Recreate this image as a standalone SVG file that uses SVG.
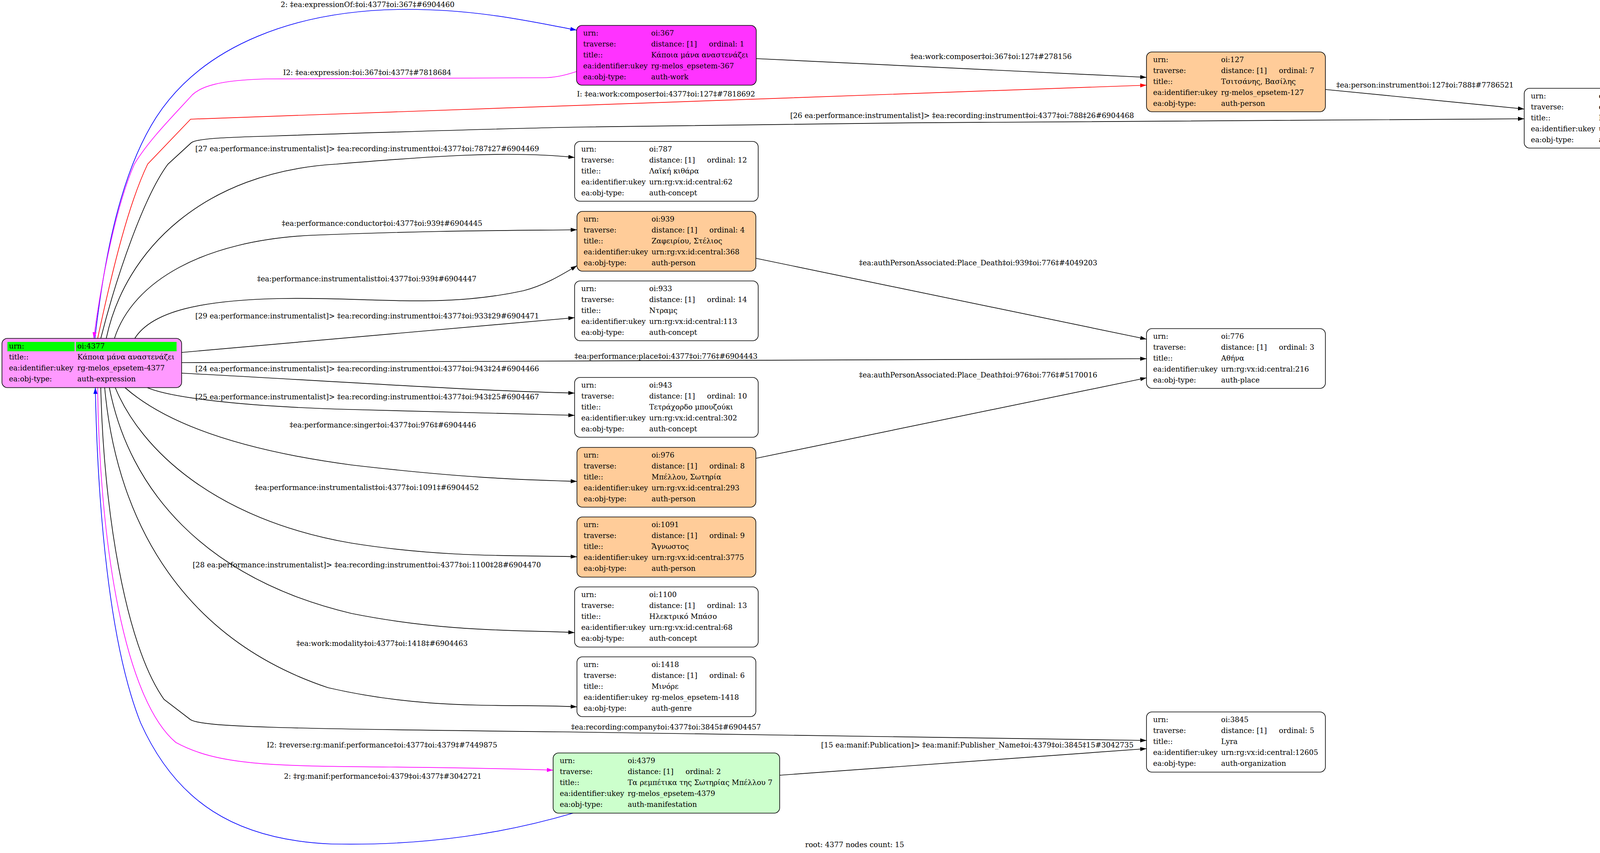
<svg xmlns="http://www.w3.org/2000/svg" width="4377" height="2183" viewBox="0 0 4377 2183">
<style>
text{font-family:'DejaVu Serif',serif;font-size:18.5px;fill:#000}
.lbl{text-anchor:middle}
.box{stroke:#000;stroke-width:1.6}
.w{fill:#fff}
.p{fill:#ffcc99}
.e{fill:none;stroke:#000;stroke-width:1.7}
.eb{stroke:#0000ff}
.em{stroke:#ff00ff}
.er{stroke:#ff0000}
</style>
<defs>
<marker id="ak" markerUnits="userSpaceOnUse" markerWidth="16" markerHeight="12" viewBox="0 0 16 12" refX="16" refY="6" orient="auto"><path d="M0,0.8 L16,6 L0,11.2 z" fill="#000"/></marker>
<marker id="ab" markerUnits="userSpaceOnUse" markerWidth="16" markerHeight="12" viewBox="0 0 16 12" refX="16" refY="6" orient="auto"><path d="M0,0.8 L16,6 L0,11.2 z" fill="#0000ff"/></marker>
<marker id="am" markerUnits="userSpaceOnUse" markerWidth="16" markerHeight="12" viewBox="0 0 16 12" refX="16" refY="6" orient="auto"><path d="M0,0.8 L16,6 L0,11.2 z" fill="#ff00ff"/></marker>
<marker id="ar" markerUnits="userSpaceOnUse" markerWidth="16" markerHeight="12" viewBox="0 0 16 12" refX="16" refY="6" orient="auto"><path d="M0,0.8 L16,6 L0,11.2 z" fill="#ff0000"/></marker>
</defs>
<rect width="4377" height="2183" fill="#fff"/>
<g id="edges">
<g id="e1"><path class="e eb" marker-end="url(#ab)" d="M243,866 C268,650 310,440 400,300 C520,115 760,24 1043,24 C1230,24 1370,58 1476,77"/><text class="lbl" x="941" y="18">2: ‡ea:expressionOf:‡oi:4377‡oi:367‡#6904460</text></g>
<g id="e2"><path class="e em" marker-end="url(#am)" d="M1476,183 C1440,195 1415,199 1388,199 L680,202 C560,205 515,222 493,242 C440,300 380,360 344,420 C300,520 262,700 240,866"/><text class="lbl" x="940" y="192">I2: ‡ea:expression:‡oi:367‡oi:4377‡#7818684</text></g>
<g id="e3"><path class="e er" marker-end="url(#ar)" d="M250,866 C290,680 330,520 378,420 L488,305 L2935,218"/><text class="lbl" x="1705" y="247">I: ‡ea:work:composer‡oi:4377‡oi:127‡#7818692</text></g>
<g id="e4"><path class="e" marker-end="url(#ak)" d="M1936,150 L2935,198"/><text class="lbl" x="2537" y="151">‡ea:work:composer‡oi:367‡oi:127‡#278156</text></g>
<g id="e5"><path class="e" marker-end="url(#ak)" d="M3393,229 L3902,279"/><text class="lbl" x="3648" y="224">‡ea:person:instrument‡oi:127‡oi:788‡#7786521</text></g>
<g id="e6"><path class="e" marker-end="url(#ak)" d="M258,866 C300,700 370,500 430,420 L490,365 C505,355 560,352 700,348 C1000,338 1300,328 1500,325 C2300,313 3200,305 3902,304"/><text class="lbl" x="2463" y="302">[26 ea:performance:instrumentalist]&gt; ‡ea:recording:instrument‡oi:4377‡oi:788‡26#6904468</text></g>
<g id="e7"><path class="e" marker-end="url(#ak)" d="M272,866 C320,640 520,440 861,420 C1100,400 1300,385 1471,403"/><text class="lbl" x="940" y="387">[27 ea:performance:instrumentalist]&gt; ‡ea:recording:instrument‡oi:4377‡oi:787‡27#6904469</text></g>
<g id="e8"><path class="e" marker-end="url(#ak)" d="M293,866 C340,720 520,615 800,602 C1100,590 1300,590 1477,588"/><text class="lbl" x="978" y="578">‡ea:performance:conductor‡oi:4377‡oi:939‡#6904445</text></g>
<g id="e9"><path class="e" marker-end="url(#ak)" d="M345,866 C390,795 520,768 720,764 C950,760 1130,790 1340,744 C1395,730 1440,702 1477,680"/><text class="lbl" x="939" y="720">‡ea:performance:instrumentalist‡oi:4377‡oi:939‡#6904447</text></g>
<g id="e10"><path class="e" marker-end="url(#ak)" d="M465,902 L1471,813"/><text class="lbl" x="940" y="815">[29 ea:performance:instrumentalist]&gt; ‡ea:recording:instrument‡oi:4377‡oi:933‡29#6904471</text></g>
<g id="e11"><path class="e" marker-end="url(#ak)" d="M465,928 L2935,918"/><text class="lbl" x="1705" y="918">‡ea:performance:place‡oi:4377‡oi:776‡#6904443</text></g>
<g id="e12"><path class="e" marker-end="url(#ak)" d="M465,955 C800,972 1200,1000 1471,1006"/><text class="lbl" x="940" y="950">[24 ea:performance:instrumentalist]&gt; ‡ea:recording:instrument‡oi:4377‡oi:943‡24#6904466</text></g>
<g id="e13"><path class="e" marker-end="url(#ak)" d="M377,992 C430,1015 600,1040 900,1048 C1200,1056 1350,1060 1471,1063"/><text class="lbl" x="940" y="1022">[25 ea:performance:instrumentalist]&gt; ‡ea:recording:instrument‡oi:4377‡oi:943‡25#6904467</text></g>
<g id="e14"><path class="e" marker-end="url(#ak)" d="M320,992 C420,1080 600,1150 900,1190 C1200,1225 1350,1228 1477,1232"/><text class="lbl" x="980" y="1094">‡ea:performance:singer‡oi:4377‡oi:976‡#6904446</text></g>
<g id="e15"><path class="e" marker-end="url(#ak)" d="M295,992 C360,1150 550,1330 900,1390 C1150,1430 1350,1420 1477,1425"/><text class="lbl" x="939" y="1254">‡ea:performance:instrumentalist‡oi:4377‡oi:1091‡#6904452</text></g>
<g id="e16"><path class="e" marker-end="url(#ak)" d="M280,992 C330,1250 520,1480 900,1570 C1150,1620 1350,1612 1471,1619"/><text class="lbl" x="939" y="1452">[28 ea:performance:instrumentalist]&gt; ‡ea:recording:instrument‡oi:4377‡oi:1100‡28#6904470</text></g>
<g id="e17"><path class="e" marker-end="url(#ak)" d="M268,992 C300,1350 480,1640 840,1760 C1100,1820 1300,1800 1477,1809"/><text class="lbl" x="978" y="1653">‡ea:work:modality‡oi:4377‡oi:1418‡#6904463</text></g>
<g id="e18"><path class="e" marker-end="url(#ak)" d="M258,992 C265,1300 320,1650 420,1790 L488,1842 C520,1860 700,1865 1440,1873 C2100,1882 2600,1890 2935,1895"/><text class="lbl" x="1705" y="1867">‡ea:recording:company‡oi:4377‡oi:3845‡#6904457</text></g>
<g id="e19"><path class="e em" marker-end="url(#am)" d="M250,992 C255,1400 320,1790 450,1900 C560,1960 700,1960 1000,1963 C1200,1965 1320,1968 1416,1971"/><text class="lbl" x="978" y="1913">I2: ‡reverse:rg:manif:performance‡oi:4377‡oi:4379‡#7449875</text></g>
<g id="e20"><path class="e eb" marker-end="url(#ab)" d="M1467,2081 C1300,2130 1100,2165 850,2160 C600,2150 450,2050 360,1850 C280,1650 250,1300 244,992"/><text class="lbl" x="980" y="1993">2: ‡rg:manif:performance‡oi:4379‡oi:4377‡#3042721</text></g>
<g id="e21"><path class="e" marker-end="url(#ak)" d="M1996,1984 L2935,1916"/><text class="lbl" x="2502" y="1913">[15 ea:manif:Publication]&gt; ‡ea:manif:Publisher_Name‡oi:4379‡oi:3845‡15#3042735</text></g>
<g id="e22"><path class="e" marker-end="url(#ak)" d="M1935,661 L2935,868"/><text class="lbl" x="2504" y="679">‡ea:authPersonAssociated:Place_Death‡oi:939‡oi:776‡#4049203</text></g>
<g id="e23"><path class="e" marker-end="url(#ak)" d="M1935,1173 L2935,967"/><text class="lbl" x="2504" y="966">‡ea:authPersonAssociated:Place_Death‡oi:976‡oi:776‡#5170016</text></g>
</g>
<g id="nodes">
<g id="n4377">
<rect class="box" x="5" y="866" width="460" height="126" rx="14" fill="#ff99ff"/>
<rect x="19" y="875" width="172" height="24" fill="#00ff00"/>
<rect x="194" y="875" width="258" height="24" fill="#00ff00"/>
<text x="23" y="892">urn:</text><text x="198" y="892">oi:4377</text>
<text x="23" y="920">title::</text><text x="198" y="920">Κάποια μάνα αναστενάζει</text>
<text x="23" y="948">ea:identifier:ukey</text><text x="198" y="948">rg-melos_epsetem-4377</text>
<text x="23" y="976">ea:obj-type:</text><text x="198" y="976">auth-expression</text>
</g>
<g id="n367">
<rect class="box" x="1476" y="65" width="460" height="153" rx="14" fill="#ff33ff"/>
<text x="1493" y="91">urn:</text><text x="1667" y="91">oi:367</text>
<text x="1493" y="119">traverse:</text><text x="1667" y="119">distance: [1]</text><text x="1815" y="119">ordinal: 1</text>
<text x="1493" y="147">title::</text><text x="1667" y="147">Κάποια μάνα αναστενάζει</text>
<text x="1493" y="175">ea:identifier:ukey</text><text x="1667" y="175">rg-melos_epsetem-367</text>
<text x="1493" y="203">ea:obj-type:</text><text x="1667" y="203">auth-work</text>
</g>
<g id="n127">
<rect class="box p" x="2935" y="133" width="458" height="153" rx="14"/>
<text x="2952" y="159">urn:</text><text x="3126" y="159">oi:127</text>
<text x="2952" y="187">traverse:</text><text x="3126" y="187">distance: [1]</text><text x="3274" y="187">ordinal: 7</text>
<text x="2952" y="215">title::</text><text x="3126" y="215">Τσιτσάνης, Βασίλης</text>
<text x="2952" y="243">ea:identifier:ukey</text><text x="3126" y="243">rg-melos_epsetem-127</text>
<text x="2952" y="271">ea:obj-type:</text><text x="3126" y="271">auth-person</text>
</g>
<g id="n788">
<rect class="box w" x="3902" y="226" width="470" height="153" rx="14"/>
<text x="3919" y="252">urn:</text><text x="4093" y="252">oi:788</text>
<text x="3919" y="280">traverse:</text><text x="4093" y="280">distance: [1]</text><text x="4241" y="280">ordinal: 11</text>
<text x="3919" y="308">title::</text><text x="4093" y="308">Μπαγλαμάς</text>
<text x="3919" y="336">ea:identifier:ukey</text><text x="4093" y="336">urn:rg:vx:id:central:65</text>
<text x="3919" y="364">ea:obj-type:</text><text x="4093" y="364">auth-concept</text>
</g>
<g id="n787">
<rect class="box w" x="1471" y="362" width="470" height="153" rx="14"/>
<text x="1488" y="388">urn:</text><text x="1662" y="388">oi:787</text>
<text x="1488" y="416">traverse:</text><text x="1662" y="416">distance: [1]</text><text x="1810" y="416">ordinal: 12</text>
<text x="1488" y="444">title::</text><text x="1662" y="444">Λαϊκή κιθάρα</text>
<text x="1488" y="472">ea:identifier:ukey</text><text x="1662" y="472">urn:rg:vx:id:central:62</text>
<text x="1488" y="500">ea:obj-type:</text><text x="1662" y="500">auth-concept</text>
</g>
<g id="n939">
<rect class="box p" x="1477" y="541" width="458" height="153" rx="14"/>
<text x="1494" y="567">urn:</text><text x="1668" y="567">oi:939</text>
<text x="1494" y="595">traverse:</text><text x="1668" y="595">distance: [1]</text><text x="1816" y="595">ordinal: 4</text>
<text x="1494" y="623">title::</text><text x="1668" y="623">Ζαφειρίου, Στέλιος</text>
<text x="1494" y="651">ea:identifier:ukey</text><text x="1668" y="651">urn:rg:vx:id:central:368</text>
<text x="1494" y="679">ea:obj-type:</text><text x="1668" y="679">auth-person</text>
</g>
<g id="n933">
<rect class="box w" x="1471" y="719" width="470" height="153" rx="14"/>
<text x="1488" y="745">urn:</text><text x="1662" y="745">oi:933</text>
<text x="1488" y="773">traverse:</text><text x="1662" y="773">distance: [1]</text><text x="1810" y="773">ordinal: 14</text>
<text x="1488" y="801">title::</text><text x="1662" y="801">Ντραμς</text>
<text x="1488" y="829">ea:identifier:ukey</text><text x="1662" y="829">urn:rg:vx:id:central:113</text>
<text x="1488" y="857">ea:obj-type:</text><text x="1662" y="857">auth-concept</text>
</g>
<g id="n776">
<rect class="box w" x="2935" y="841" width="458" height="153" rx="14"/>
<text x="2952" y="867">urn:</text><text x="3126" y="867">oi:776</text>
<text x="2952" y="895">traverse:</text><text x="3126" y="895">distance: [1]</text><text x="3274" y="895">ordinal: 3</text>
<text x="2952" y="923">title::</text><text x="3126" y="923">Αθήνα</text>
<text x="2952" y="951">ea:identifier:ukey</text><text x="3126" y="951">urn:rg:vx:id:central:216</text>
<text x="2952" y="979">ea:obj-type:</text><text x="3126" y="979">auth-place</text>
</g>
<g id="n943">
<rect class="box w" x="1471" y="966" width="470" height="153" rx="14"/>
<text x="1488" y="992">urn:</text><text x="1662" y="992">oi:943</text>
<text x="1488" y="1020">traverse:</text><text x="1662" y="1020">distance: [1]</text><text x="1810" y="1020">ordinal: 10</text>
<text x="1488" y="1048">title::</text><text x="1662" y="1048">Τετράχορδο μπουζούκι</text>
<text x="1488" y="1076">ea:identifier:ukey</text><text x="1662" y="1076">urn:rg:vx:id:central:302</text>
<text x="1488" y="1104">ea:obj-type:</text><text x="1662" y="1104">auth-concept</text>
</g>
<g id="n976">
<rect class="box p" x="1477" y="1145" width="458" height="153" rx="14"/>
<text x="1494" y="1171">urn:</text><text x="1668" y="1171">oi:976</text>
<text x="1494" y="1199">traverse:</text><text x="1668" y="1199">distance: [1]</text><text x="1816" y="1199">ordinal: 8</text>
<text x="1494" y="1227">title::</text><text x="1668" y="1227">Μπέλλου, Σωτηρία</text>
<text x="1494" y="1255">ea:identifier:ukey</text><text x="1668" y="1255">urn:rg:vx:id:central:293</text>
<text x="1494" y="1283">ea:obj-type:</text><text x="1668" y="1283">auth-person</text>
</g>
<g id="n1091">
<rect class="box p" x="1477" y="1323" width="458" height="154" rx="14"/>
<text x="1494" y="1349">urn:</text><text x="1668" y="1349">oi:1091</text>
<text x="1494" y="1377">traverse:</text><text x="1668" y="1377">distance: [1]</text><text x="1816" y="1377">ordinal: 9</text>
<text x="1494" y="1405">title::</text><text x="1668" y="1405">Ἄγνωστος</text>
<text x="1494" y="1433">ea:identifier:ukey</text><text x="1668" y="1433">urn:rg:vx:id:central:3775</text>
<text x="1494" y="1461">ea:obj-type:</text><text x="1668" y="1461">auth-person</text>
</g>
<g id="n1100">
<rect class="box w" x="1471" y="1502" width="470" height="154" rx="14"/>
<text x="1488" y="1528">urn:</text><text x="1662" y="1528">oi:1100</text>
<text x="1488" y="1556">traverse:</text><text x="1662" y="1556">distance: [1]</text><text x="1810" y="1556">ordinal: 13</text>
<text x="1488" y="1584">title::</text><text x="1662" y="1584">Ηλεκτρικό Μπάσο</text>
<text x="1488" y="1612">ea:identifier:ukey</text><text x="1662" y="1612">urn:rg:vx:id:central:68</text>
<text x="1488" y="1640">ea:obj-type:</text><text x="1662" y="1640">auth-concept</text>
</g>
<g id="n1418">
<rect class="box w" x="1477" y="1681" width="458" height="153" rx="14"/>
<text x="1494" y="1707">urn:</text><text x="1668" y="1707">oi:1418</text>
<text x="1494" y="1735">traverse:</text><text x="1668" y="1735">distance: [1]</text><text x="1816" y="1735">ordinal: 6</text>
<text x="1494" y="1763">title::</text><text x="1668" y="1763">Μινόρε</text>
<text x="1494" y="1791">ea:identifier:ukey</text><text x="1668" y="1791">rg-melos_epsetem-1418</text>
<text x="1494" y="1819">ea:obj-type:</text><text x="1668" y="1819">auth-genre</text>
</g>
<g id="n3845">
<rect class="box w" x="2935" y="1822" width="458" height="154" rx="14"/>
<text x="2952" y="1848">urn:</text><text x="3126" y="1848">oi:3845</text>
<text x="2952" y="1876">traverse:</text><text x="3126" y="1876">distance: [1]</text><text x="3274" y="1876">ordinal: 5</text>
<text x="2952" y="1904">title::</text><text x="3126" y="1904">Lyra</text>
<text x="2952" y="1932">ea:identifier:ukey</text><text x="3126" y="1932">urn:rg:vx:id:central:12605</text>
<text x="2952" y="1960">ea:obj-type:</text><text x="3126" y="1960">auth-organization</text>
</g>
<g id="n4379">
<rect class="box" x="1416" y="1927" width="580" height="154" rx="14" fill="#ccffcc"/>
<text x="1433" y="1953">urn:</text><text x="1607" y="1953">oi:4379</text>
<text x="1433" y="1981">traverse:</text><text x="1607" y="1981">distance: [1]</text><text x="1755" y="1981">ordinal: 2</text>
<text x="1433" y="2009">title::</text><text x="1607" y="2009">Τα ρεμπέτικα της Σωτηρίας Μπέλλου 7</text>
<text x="1433" y="2037">ea:identifier:ukey</text><text x="1607" y="2037">rg-melos_epsetem-4379</text>
<text x="1433" y="2065">ea:obj-type:</text><text x="1607" y="2065">auth-manifestation</text>
</g>
</g>
<text class="lbl" x="2188" y="2168">root: 4377 nodes count: 15</text>
</svg>
